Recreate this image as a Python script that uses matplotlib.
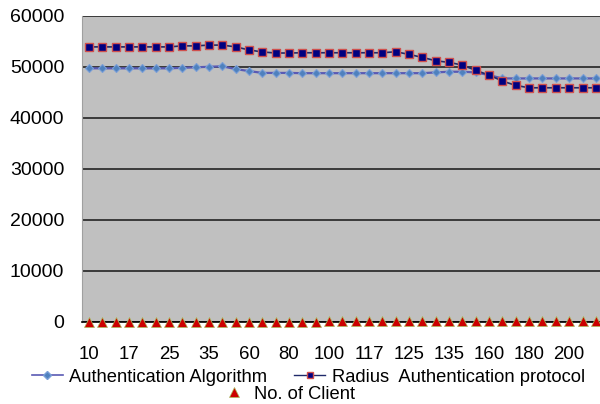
import matplotlib
matplotlib.use("Agg")
import matplotlib.pyplot as plt
from matplotlib.lines import Line2D

plt.rcParams['font.family'] = ['Liberation Sans', 'DejaVu Sans']

categories = [10, 12, 15, 17, 20, 22, 25, 27, 30, 35, 40, 50, 60, 65, 70, 80, 85, 90,
              100, 105, 110, 117, 120, 122, 125, 127, 130, 135, 140, 150, 160, 165, 170,
              180, 185, 190, 200, 210, 220]
auth_algorithm = [49700, 49700, 49700, 49700, 49700, 49700, 49700, 49800, 49900, 50000,
                  50100, 49550, 49160, 48800, 48800, 48800, 48750, 48750, 48750, 48750,
                  48750, 48750, 48750, 48750, 48750, 48750, 48900, 49030, 49030, 48900,
                  48370, 47720, 47720, 47720, 47720, 47720, 47720, 47720, 47720]
radius_protocol = [53900, 53900, 53900, 53900, 53900, 53900, 53900, 54100, 54100, 54250,
                   54250, 53900, 53300, 52900, 52700, 52700, 52750, 52750, 52750, 52750,
                   52750, 52750, 52750, 52950, 52420, 51840, 51180, 50860, 50330, 49290,
                   48370, 47200, 46350, 45890, 45890, 45890, 45890, 45890, 45890]
no_of_client = categories
tick_labels = [str(c) for c in categories]

fig = plt.figure(figsize=(6, 4.04), dpi=100)
ax = fig.add_axes([0.1372, 0.203, 0.867, 0.758])
ax.set_facecolor('#C0C0C0')

x = list(range(len(categories)))
ax.plot(x, auth_algorithm, color='#5A5AB4', lw=1.6, marker='D', ms=4.2,
        mfc='#4F81BD', mec='#7A9FD8', mew=0.8, zorder=4)
ax.plot(x, radius_protocol, color='#1F2A6A', lw=1.2, marker='s', ms=5.5,
        mfc='#000080', mec='#D0504D', mew=1.0, zorder=5)
ax.plot(x, no_of_client, ls='none', marker='^', ms=7, mfc='#CC0000',
        mec='#A8C060', mew=0.5, zorder=6, clip_on=False)

ax.set_xlim(-0.5, len(categories) - 0.5)
ax.set_ylim(0, 60000)
ax.set_yticks(range(0, 60001, 10000))
ax.yaxis.grid(True, color='#3A3A3A', lw=1.4)
ax.set_axisbelow(True)
ax.set_xticks(x[::3])
ax.set_xticklabels(tick_labels[::3])
ax.tick_params(axis='x', length=0, pad=17, labelsize=13.4)
ax.tick_params(axis='y', length=0, pad=13, labelsize=14)
for s in ['top', 'right']:
    ax.spines[s].set_visible(False)
ax.spines['left'].set_color('#A0A0A0')
ax.spines['bottom'].set_color('black')
ax.spines['bottom'].set_linewidth(1.2)

h1 = Line2D([], [], color='#5A5AB4', lw=1.2, marker='D', ms=4, mfc='#4F81BD', mec='#7A9FD8')
h2 = Line2D([], [], color='#1F2A6A', lw=1.0, marker='s', ms=4.5, mfc='#000080', mec='#D0504D')
h3 = Line2D([], [], ls='none', marker='^', ms=7, mfc='#CC0000', mec='#A8C060', mew=0.5)
fig.legend([h1, h2], ['Authentication Algorithm', 'Radius  Authentication protocol'],
           loc='center', bbox_to_anchor=(0.514, 0.066), ncol=2, frameon=False,
           fontsize=13.2, handlelength=1.7, handletextpad=0.35, columnspacing=1.45,
           borderpad=0, borderaxespad=0)
fig.legend([h3], ['No. of Client'], loc='center', bbox_to_anchor=(0.482, 0.024),
           frameon=False, fontsize=13.2, handlelength=1.2, handletextpad=0.5,
           borderpad=0, borderaxespad=0)

fig.savefig('out.png', dpi=100)
